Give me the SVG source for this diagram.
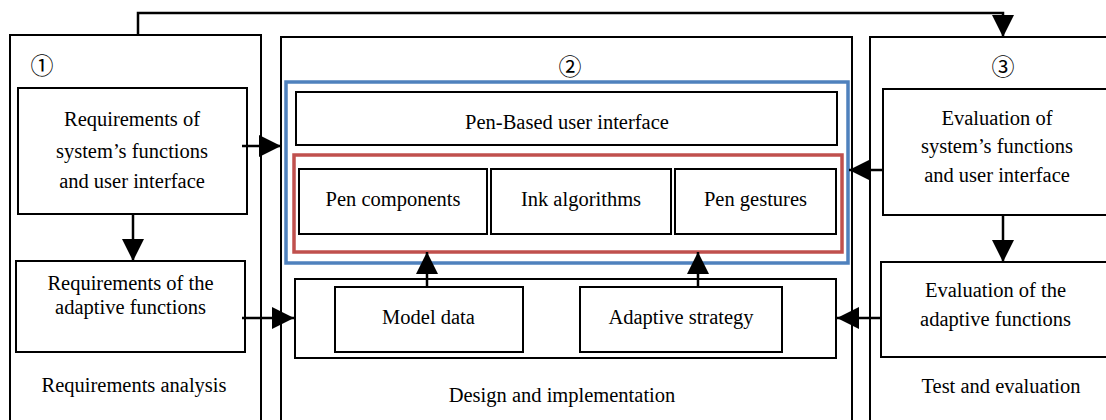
<svg xmlns="http://www.w3.org/2000/svg" width="1106" height="420" viewBox="0 0 1106 420">
<style>
.box{fill:none;stroke:#000;stroke-width:2}
.blue{fill:none;stroke:#4F81BD;stroke-width:3.5}
.red{fill:none;stroke:#C0504D;stroke-width:3.5}
.t{font-family:"Liberation Serif","Times New Roman",serif;font-size:20.5px;fill:#000;text-anchor:middle}
.num{font-family:"Noto Sans CJK SC","DejaVu Sans",sans-serif;font-size:23px;fill:#000;text-anchor:middle}
.ln{fill:none;stroke:#000;stroke-width:2.5}
</style>
<defs>
<marker id="ah" markerUnits="userSpaceOnUse" markerWidth="22" markerHeight="22" refX="22" refY="11" orient="auto" viewBox="0 0 22 22">
<path d="M0,0 L22,11 L0,22 z" fill="#000"/>
</marker>
</defs>
<rect width="1106" height="420" fill="#fff"/>

<g id="panel1">
<rect class="box" x="10" y="35" width="251" height="400"/>
<text class="num" x="42" y="74">①</text>
<text class="t" x="134" y="392">Requirements analysis</text>
</g>
<g id="req-system">
<rect class="box" x="18" y="88" width="229" height="126"/>
<text class="t" x="132" y="126">Requirements of</text>
<text class="t" x="132" y="157.5">system’s functions</text>
<text class="t" x="132" y="187.5">and user interface</text>
</g>
<g id="req-adaptive">
<rect class="box" x="16" y="261" width="229" height="91"/>
<text class="t" x="130.5" y="290">Requirements of the</text>
<text class="t" x="130.5" y="313.5">adaptive functions</text>
</g>

<g id="panel2">
<rect class="box" x="281" y="37" width="571" height="400"/>
<text class="num" x="570" y="75">②</text>
<text class="t" x="562" y="401.5">Design and implementation</text>
</g>
<g id="ui-group">
<rect class="blue" x="286" y="82" width="562" height="181"/>
<rect class="red" x="294" y="155" width="548" height="97"/>
</g>
<g id="pen-ui">
<rect class="box" x="296" y="92" width="541" height="53"/>
<text class="t" x="567" y="128.5">Pen-Based user interface</text>
</g>
<g id="pen-components">
<rect class="box" x="299" y="169" width="188" height="65"/>
<text class="t" x="393" y="205.5">Pen components</text>
</g>
<g id="ink-algorithms">
<rect class="box" x="491" y="169" width="180" height="65"/>
<text class="t" x="581" y="205.5">Ink algorithms</text>
</g>
<g id="pen-gestures">
<rect class="box" x="675" y="169" width="161" height="65"/>
<text class="t" x="755.5" y="205.5">Pen gestures</text>
</g>
<g id="adaptive-group">
<rect class="box" x="295" y="279" width="541" height="79"/>
</g>
<g id="model-data">
<rect class="box" x="335" y="287" width="188" height="65"/>
<text class="t" x="428.5" y="324">Model data</text>
</g>
<g id="adaptive-strategy">
<rect class="box" x="580" y="287" width="202" height="65"/>
<text class="t" x="681" y="324">Adaptive strategy</text>
</g>

<g id="panel3">
<rect class="box" x="870" y="37" width="260" height="400"/>
<text class="num" x="1003" y="75">③</text>
<text class="t" x="1001" y="393">Test and evaluation</text>
</g>
<g id="eval-system">
<rect class="box" x="883" y="89" width="240" height="126"/>
<text class="t" x="997" y="124.5">Evaluation of</text>
<text class="t" x="997" y="153">system’s functions</text>
<text class="t" x="997" y="182">and user interface</text>
</g>
<g id="eval-adaptive">
<rect class="box" x="881" y="262" width="240" height="95"/>
<text class="t" x="995.5" y="297">Evaluation of the</text>
<text class="t" x="995.5" y="325.5">adaptive functions</text>
</g>

<g id="connectors">
<path class="ln" d="M138,35 V13 H1003 V37" marker-end="url(#ah)"/>
<path class="ln" d="M242,146 H281" marker-end="url(#ah)"/>
<path class="ln" d="M242,318 H294" marker-end="url(#ah)"/>
<path class="ln" d="M133,214 V261" marker-end="url(#ah)"/>
<path class="ln" d="M883,170 H849" marker-end="url(#ah)"/>
<path class="ln" d="M881,318 H837" marker-end="url(#ah)"/>
<path class="ln" d="M1003,215 V262" marker-end="url(#ah)"/>
<path class="ln" d="M427,287 V252" marker-end="url(#ah)"/>
<path class="ln" d="M698,287 V252" marker-end="url(#ah)"/>
</g>
</svg>
